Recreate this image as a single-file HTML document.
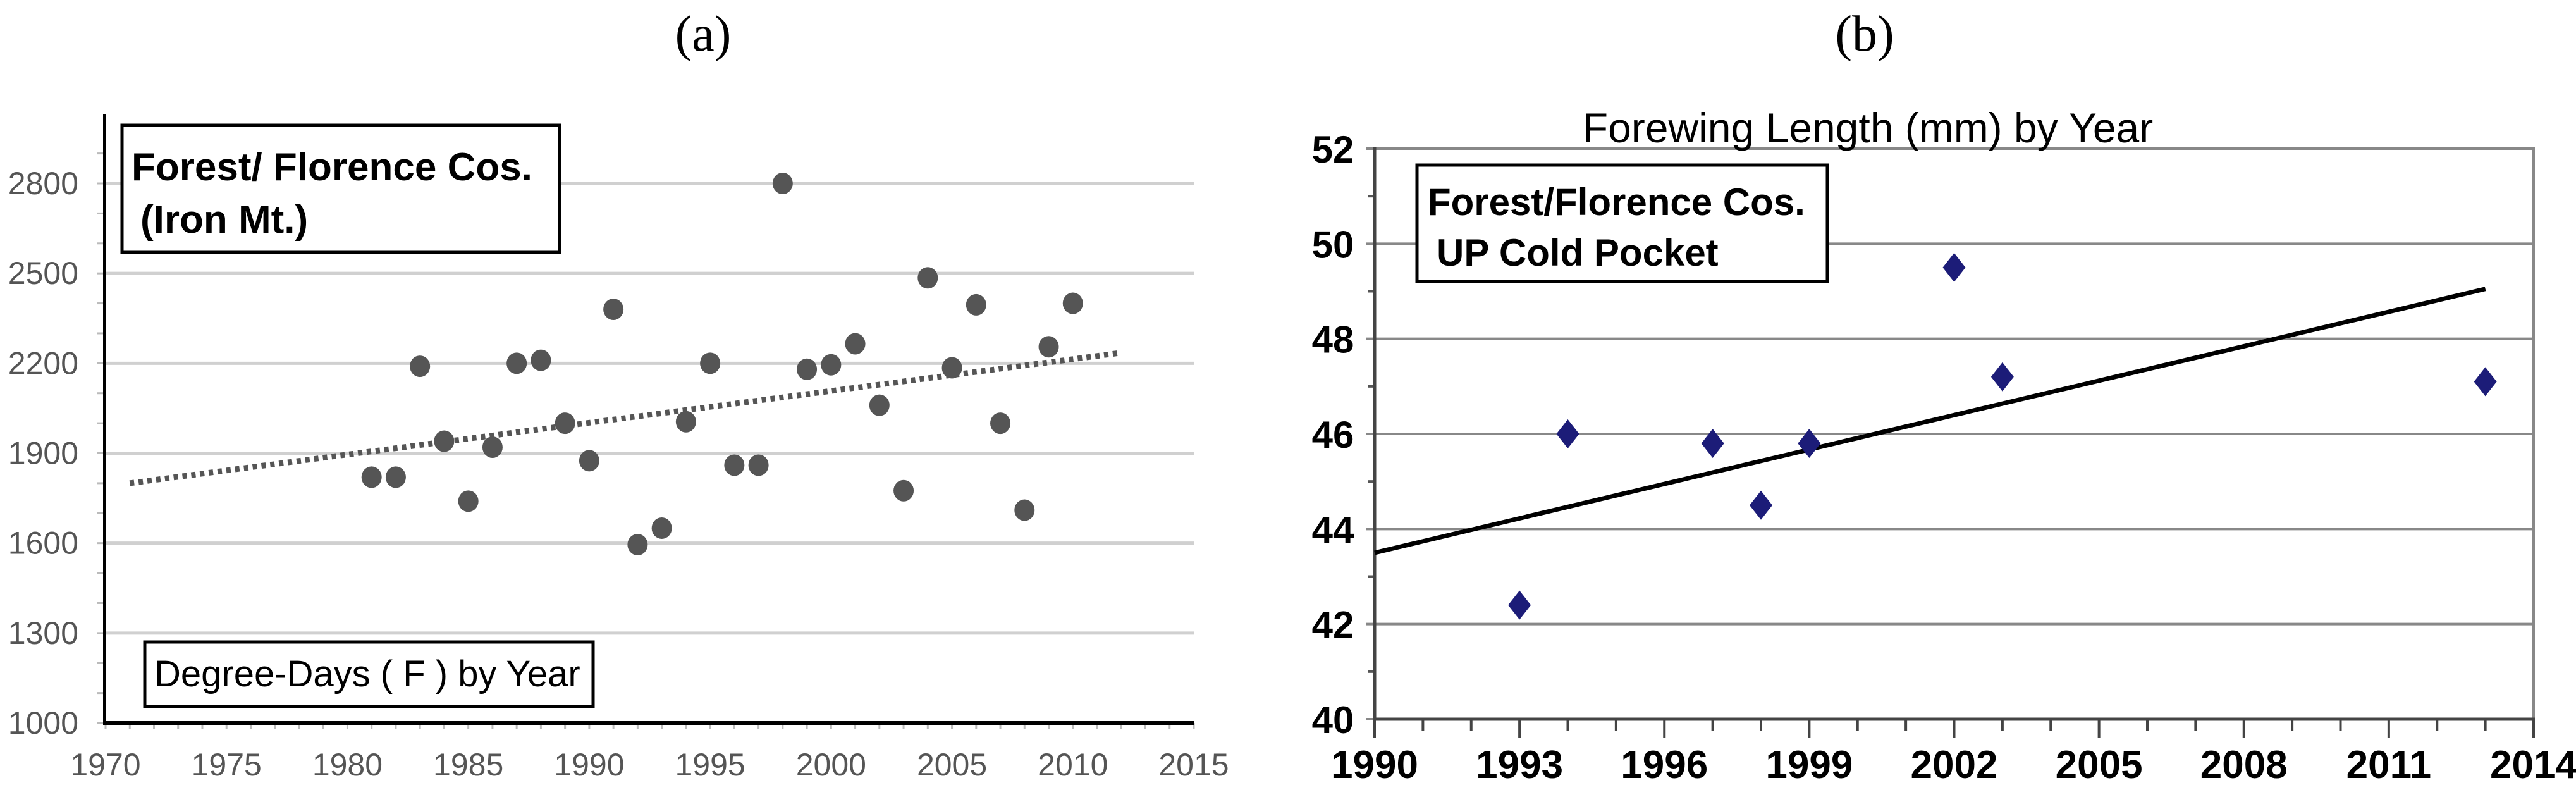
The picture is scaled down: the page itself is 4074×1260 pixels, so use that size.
<!DOCTYPE html>
<html><head><meta charset="utf-8"><style>
html,body{margin:0;padding:0;background:#fff;}
svg{display:block;}
</style></head><body>
<svg id="fig" width="4074" height="1260" xmlns="http://www.w3.org/2000/svg">
<text x="1112" y="80" font-family="Liberation Serif, serif" font-size="80" text-anchor="middle">(a)</text>
<text x="2949" y="80" font-family="Liberation Serif, serif" font-size="80" text-anchor="middle">(b)</text>
<g id="ga"></g>
<g id="gb"></g>
</svg>
<script>
const NS='http://www.w3.org/2000/svg';
const yearsA=[1981,1982,1983,1984,1985,1986,1987,1988,1989,1990,1991,1992,1993,1994,1995,1996,1997,1998,1999,2000,2001,2002,2003,2004,2005,2006,2007,2008,2009,2010];
const valuesA=[1820,1820,2190,1940,1740,1920,2200,2210,2000,1875,2380,1595,1650,2005,2200,1860,1860,2800,2180,2195,2265,2060,1775,2485,2185,2395,2000,1710,2255,2400];
const trendA=[[1971,1800],[2012,2235]];
const yTicksA=[1000,1300,1600,1900,2200,2500,2800];
const xTicksA=[1970,1975,1980,1985,1990,1995,2000,2005,2010,2015];
const yearsB=[1993,1994,1997,1998,1999,2002,2003,2013];
const valuesB=[42.4,46.0,45.8,44.5,45.8,49.5,47.2,47.1];
const trendB=[[1990,43.5],[2013,49.05]];
const yTicksB=[40,42,44,46,48,50,52];
const xTicksB=[1990,1993,1996,1999,2002,2005,2008,2011,2014];

function mk(tag,attrs,parent,text){const e=document.createElementNS(NS,tag);for(const k in attrs)e.setAttribute(k,attrs[k]);if(text!==undefined)e.textContent=text;parent.appendChild(e);return e;}

// chart A
const ga=document.getElementById('ga');
const xA=v=>167+(v-1970)*(1888-167)/45;
const yA=v=>1143-(v-1000)*(1143-290)/1800;
for(const t of yTicksA){
  if(t>1000){const g=mk('line',{x1:167,x2:1888,y1:yA(t),y2:yA(t),stroke:'#d0d0d0','stroke-width':5},ga);
  
  }
  const l=mk('text',{x:124,y:yA(t)+17,'text-anchor':'end','font-family':'Liberation Sans Narrow, Liberation Sans, sans-serif','font-size':50,fill:'#555'},ga,t);
  
  
}
for(let v=1000;v<=2900;v+=100){mk('line',{x1:154,x2:164,y1:yA(v),y2:yA(v),stroke:'#bbb','stroke-width':3},ga);}
for(let v=1970;v<=2015;v++){mk('line',{x1:xA(v),x2:xA(v),y1:1143,y2:1153,stroke:'#bbb','stroke-width':3},ga);}
for(const t of xTicksA){
  const l=mk('text',{x:xA(t),y:1226,'text-anchor':'middle','font-family':'Liberation Sans Narrow, Liberation Sans, sans-serif','font-size':50,fill:'#555'},ga,t);
  
  
}
mk('line',{x1:165,x2:165,y1:180,y2:1146,stroke:'#000','stroke-width':4},ga);
mk('line',{x1:163,x2:1888,y1:1143,y2:1143,stroke:'#000','stroke-width':6},ga);
const tA=mk('line',{x1:xA(trendA[0][0]),y1:yA(trendA[0][1]),x2:xA(trendA[1][0]),y2:yA(trendA[1][1]),stroke:'#555','stroke-width':9,'stroke-dasharray':'7 7'},ga);


yearsA.forEach((yr,i)=>{const c=mk('ellipse',{cx:xA(yr),cy:yA(valuesA[i]),rx:16,ry:17,fill:'#555'},ga);
  
  });
const boxA1=mk('rect',{x:193,y:198,width:692,height:201,fill:'#fff',stroke:'#000','stroke-width':5},ga);


mk('text',{x:208,y:285,'font-family':'Liberation Sans Narrow, Liberation Sans, sans-serif','font-size':62,'font-weight':'bold'},ga,'Forest/ Florence Cos.');
mk('text',{x:222,y:368,'font-family':'Liberation Sans Narrow, Liberation Sans, sans-serif','font-size':62,'font-weight':'bold'},ga,'(Iron Mt.)');
const boxA2=mk('rect',{x:229,y:1015,width:709,height:102,fill:'#fff',stroke:'#000','stroke-width':5},ga);


mk('text',{x:244,y:1085,'font-family':'Liberation Sans Narrow, Liberation Sans, sans-serif','font-size':58},ga,'Degree-Days ( F ) by Year');

// chart B
const gb=document.getElementById('gb');
const xB=v=>2174+(v-1990)*(4007-2174)/24;
const yB=v=>1137-(v-40)*(1137-235)/12;
for(const t of yTicksB){
  const g=mk('line',{x1:2160,x2:4007,y1:yB(t),y2:yB(t),stroke:'#888','stroke-width':4},gb);
  
  
  const l=mk('text',{x:2108,y:yB(t)+22,'text-anchor':'middle','font-family':'Liberation Sans, sans-serif','font-size':60,'font-weight':'bold'},gb,t);
  
  
}
for(let v=41;v<52;v+=2){mk('line',{x1:2163,x2:2174,y1:yB(v),y2:yB(v),stroke:'#555','stroke-width':4},gb);}
for(let v=1990;v<=2014;v++){const maj=(v-1990)%3===0;mk('line',{x1:xB(v),x2:xB(v),y1:1137,y2:maj?1166:1155,stroke:'#444','stroke-width':4},gb);}
for(const t of xTicksB){
  const l=mk('text',{x:xB(t),y:1230,'text-anchor':'middle','font-family':'Liberation Sans, sans-serif','font-size':62,'font-weight':'bold'},gb,t);
  
  
}
mk('line',{x1:2174,x2:2174,y1:233,y2:1139,stroke:'#444','stroke-width':5},gb);
mk('line',{x1:4007,x2:4007,y1:233,y2:1139,stroke:'#888','stroke-width':4},gb);
mk('line',{x1:2172,x2:4009,y1:1137,y2:1137,stroke:'#444','stroke-width':5},gb);
const tB=mk('line',{x1:xB(trendB[0][0]),y1:yB(trendB[0][1]),x2:xB(trendB[1][0]),y2:yB(trendB[1][1]),stroke:'#000','stroke-width':7},gb);


yearsB.forEach((yr,i)=>{const cx=xB(yr),cy=yB(valuesB[i]);
  const d=mk('polygon',{points:`${cx},${cy-23} ${cx+18},${cy} ${cx},${cy+23} ${cx-18},${cy}`,fill:'#1c1c78'},gb);
  
  });
mk('text',{x:2954,y:225,'text-anchor':'middle','font-family':'Liberation Sans Narrow, Liberation Sans, sans-serif','font-size':66},gb,'Forewing Length (mm) by Year');
const boxB=mk('rect',{x:2241,y:261,width:649,height:184,fill:'#fff',stroke:'#000','stroke-width':5},gb);


mk('text',{x:2258,y:340,'font-family':'Liberation Sans Narrow, Liberation Sans, sans-serif','font-size':60,'font-weight':'bold'},gb,'Forest/Florence Cos.');
mk('text',{x:2272,y:420,'font-family':'Liberation Sans Narrow, Liberation Sans, sans-serif','font-size':60,'font-weight':'bold'},gb,'UP Cold Pocket');
</script>
</body></html>
